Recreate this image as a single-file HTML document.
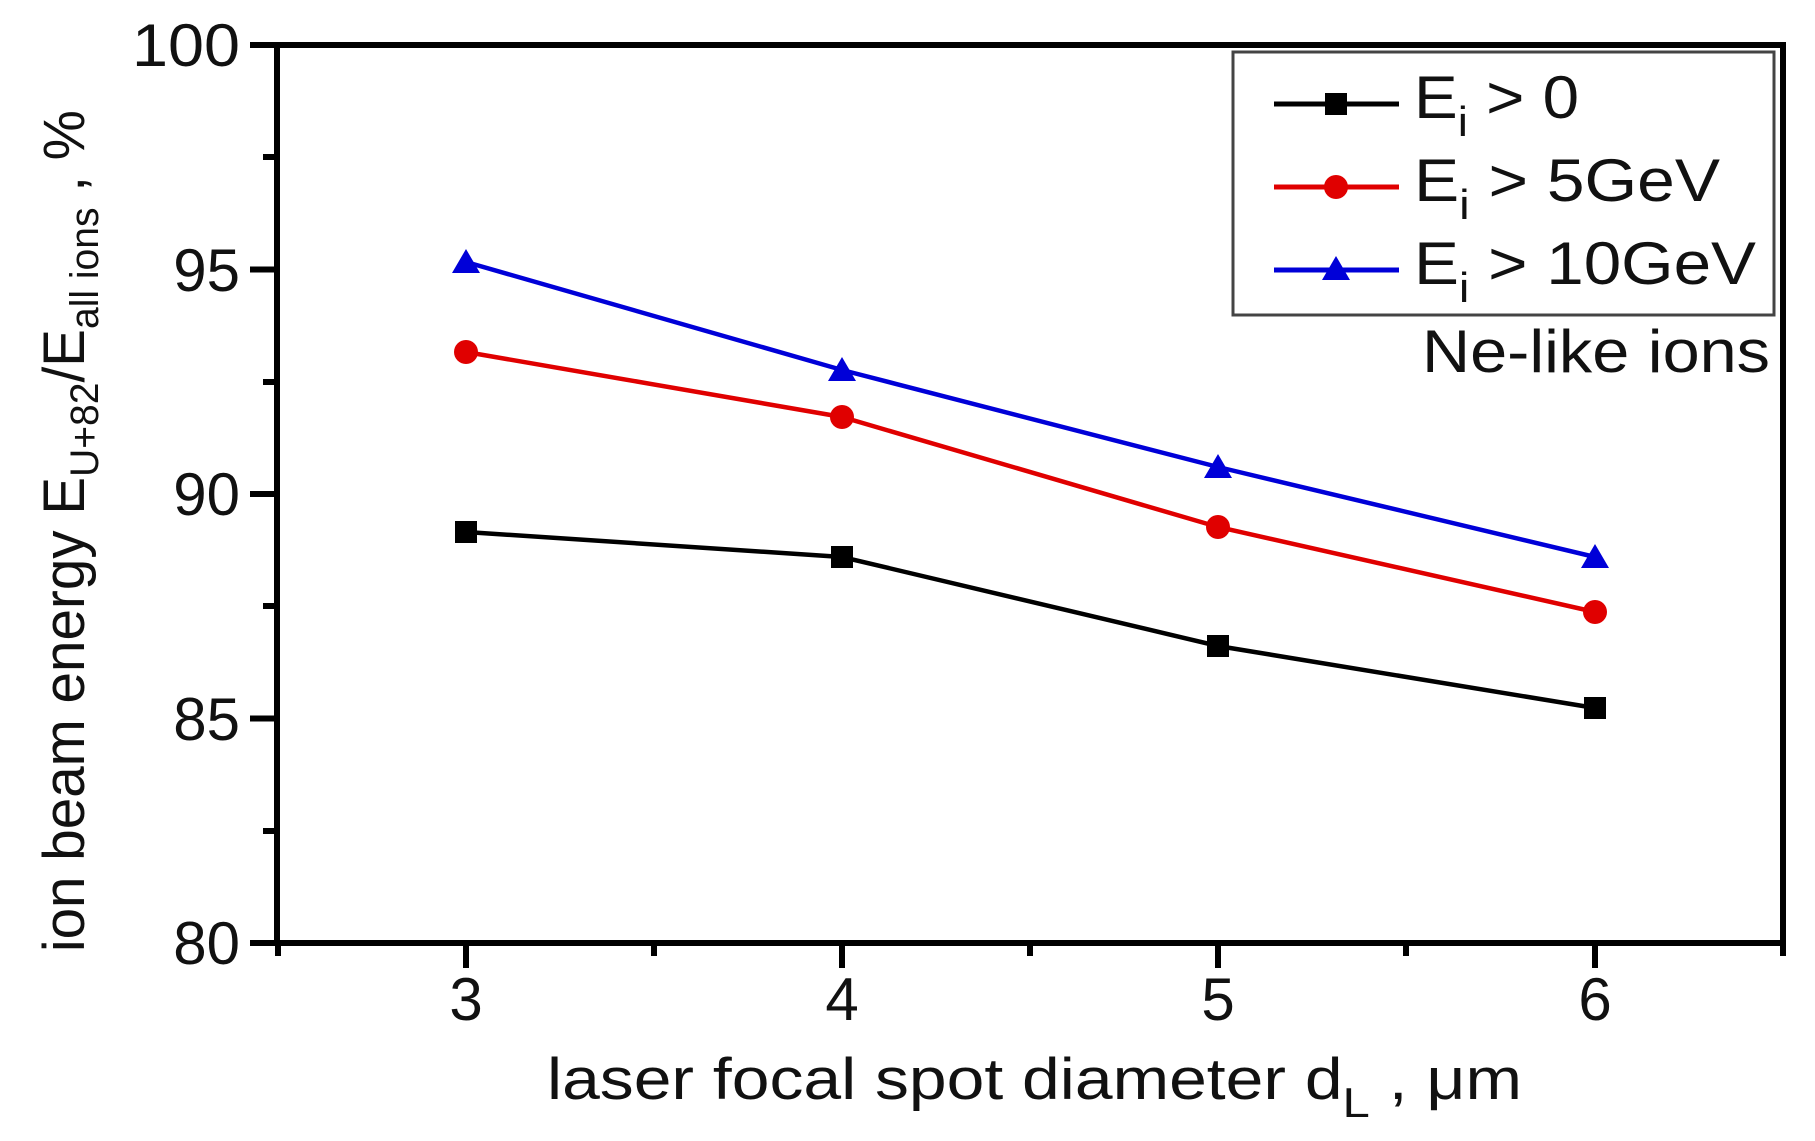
<!DOCTYPE html>
<html><head><meta charset="utf-8"><style>html,body{margin:0;padding:0;background:#fff}svg{display:block}</style></head>
<body>
<svg width="1815" height="1141" viewBox="0 0 1815 1141" xmlns="http://www.w3.org/2000/svg" font-family="Liberation Sans, Arial, sans-serif">
<rect width="1815" height="1141" fill="#fff"/>
<rect x="277" y="45" width="1506" height="898" fill="none" stroke="#000" stroke-width="6"/>
<g stroke="#000" stroke-width="6">
<line x1="250" y1="45" x2="277" y2="45"/><line x1="250" y1="269.5" x2="277" y2="269.5"/><line x1="250" y1="494" x2="277" y2="494"/><line x1="250" y1="718.5" x2="277" y2="718.5"/><line x1="250" y1="943" x2="277" y2="943"/>
<line x1="263" y1="157" x2="277" y2="157"/><line x1="263" y1="382" x2="277" y2="382"/><line x1="263" y1="606" x2="277" y2="606"/><line x1="263" y1="831" x2="277" y2="831"/>
<line x1="466" y1="943" x2="466" y2="968"/><line x1="842" y1="943" x2="842" y2="968"/><line x1="1218" y1="943" x2="1218" y2="968"/><line x1="1595" y1="943" x2="1595" y2="968"/>
<line x1="654" y1="943" x2="654" y2="956"/><line x1="1030" y1="943" x2="1030" y2="956"/><line x1="1406" y1="943" x2="1406" y2="956"/><line x1="1783" y1="943" x2="1783" y2="956"/><line x1="278" y1="943" x2="278" y2="956"/>
</g>
<g font-size="60" fill="#111" text-anchor="end">
<text x="240" y="66" textLength="108" lengthAdjust="spacingAndGlyphs">100</text><text x="240" y="291">95</text><text x="240" y="515">90</text><text x="240" y="740">85</text><text x="240" y="964">80</text>
</g>
<g font-size="60" fill="#111" text-anchor="middle">
<text x="466" y="1020">3</text><text x="842" y="1020">4</text><text x="1218" y="1020">5</text><text x="1595" y="1020">6</text>
</g>
<text x="547" y="1099" font-size="58" fill="#111" textLength="975" lengthAdjust="spacingAndGlyphs">laser focal spot diameter d<tspan font-size="42" dy="18">L</tspan><tspan dy="-18"> , μm</tspan></text>
<text transform="translate(84,952) rotate(-90)" font-size="58" fill="#111" textLength="842" lengthAdjust="spacingAndGlyphs">ion beam energy E<tspan font-size="40" dy="14">U+82</tspan><tspan dy="-14">/E</tspan><tspan font-size="40" dy="14">all ions</tspan><tspan dy="-14"> ,  %</tspan></text>
<polyline points="466,532 842,557 1218,646 1595,708" fill="none" stroke="#000" stroke-width="4.5"/>
<polyline points="466,352 842,417 1218,527 1595,612" fill="none" stroke="#e00000" stroke-width="4.5"/>
<polyline points="466,262 842,370 1218,467 1595,557" fill="none" stroke="#0000d8" stroke-width="4.5"/>
<g fill="#000"><rect x="455" y="521" width="22" height="22"/><rect x="831" y="546" width="22" height="22"/><rect x="1207" y="635" width="22" height="22"/><rect x="1584" y="697" width="22" height="22"/></g>
<g fill="#e00000"><circle cx="466" cy="352" r="12"/><circle cx="842" cy="417" r="12"/><circle cx="1218" cy="527" r="12"/><circle cx="1595" cy="612" r="12"/></g>
<g fill="#0000d8"><polygon points="466,249 480,273 452,273"/><polygon points="842,357 856,381 828,381"/><polygon points="1218,454 1232,478 1204,478"/><polygon points="1595,544 1609,568 1581,568"/></g>
<rect x="1233" y="52" width="541" height="263" fill="#fff" stroke="#444" stroke-width="3"/>
<line x1="1274" y1="104" x2="1399" y2="104" stroke="#000" stroke-width="5"/><rect x="1325" y="93" width="22" height="22"/>
<line x1="1274" y1="187" x2="1399" y2="187" stroke="#e00000" stroke-width="5"/><circle cx="1336" cy="187" r="12" fill="#e00000"/>
<line x1="1274" y1="270" x2="1399" y2="270" stroke="#0000d8" stroke-width="5"/><polygon points="1336,256 1350,280 1322,280" fill="#0000d8"/>
<g font-size="60" fill="#111">
<text x="1414" y="118" textLength="165" lengthAdjust="spacingAndGlyphs">E<tspan font-size="42" dy="18">i</tspan><tspan dy="-18"> &gt; 0</tspan></text>
<text x="1414" y="201" textLength="306" lengthAdjust="spacingAndGlyphs">E<tspan font-size="42" dy="18">i</tspan><tspan dy="-18"> &gt; 5GeV</tspan></text>
<text x="1414" y="284" textLength="342" lengthAdjust="spacingAndGlyphs">E<tspan font-size="42" dy="18">i</tspan><tspan dy="-18"> &gt; 10GeV</tspan></text>
<text x="1422" y="372" textLength="348" lengthAdjust="spacingAndGlyphs">Ne-like ions</text>
</g>
</svg>
</body></html>
